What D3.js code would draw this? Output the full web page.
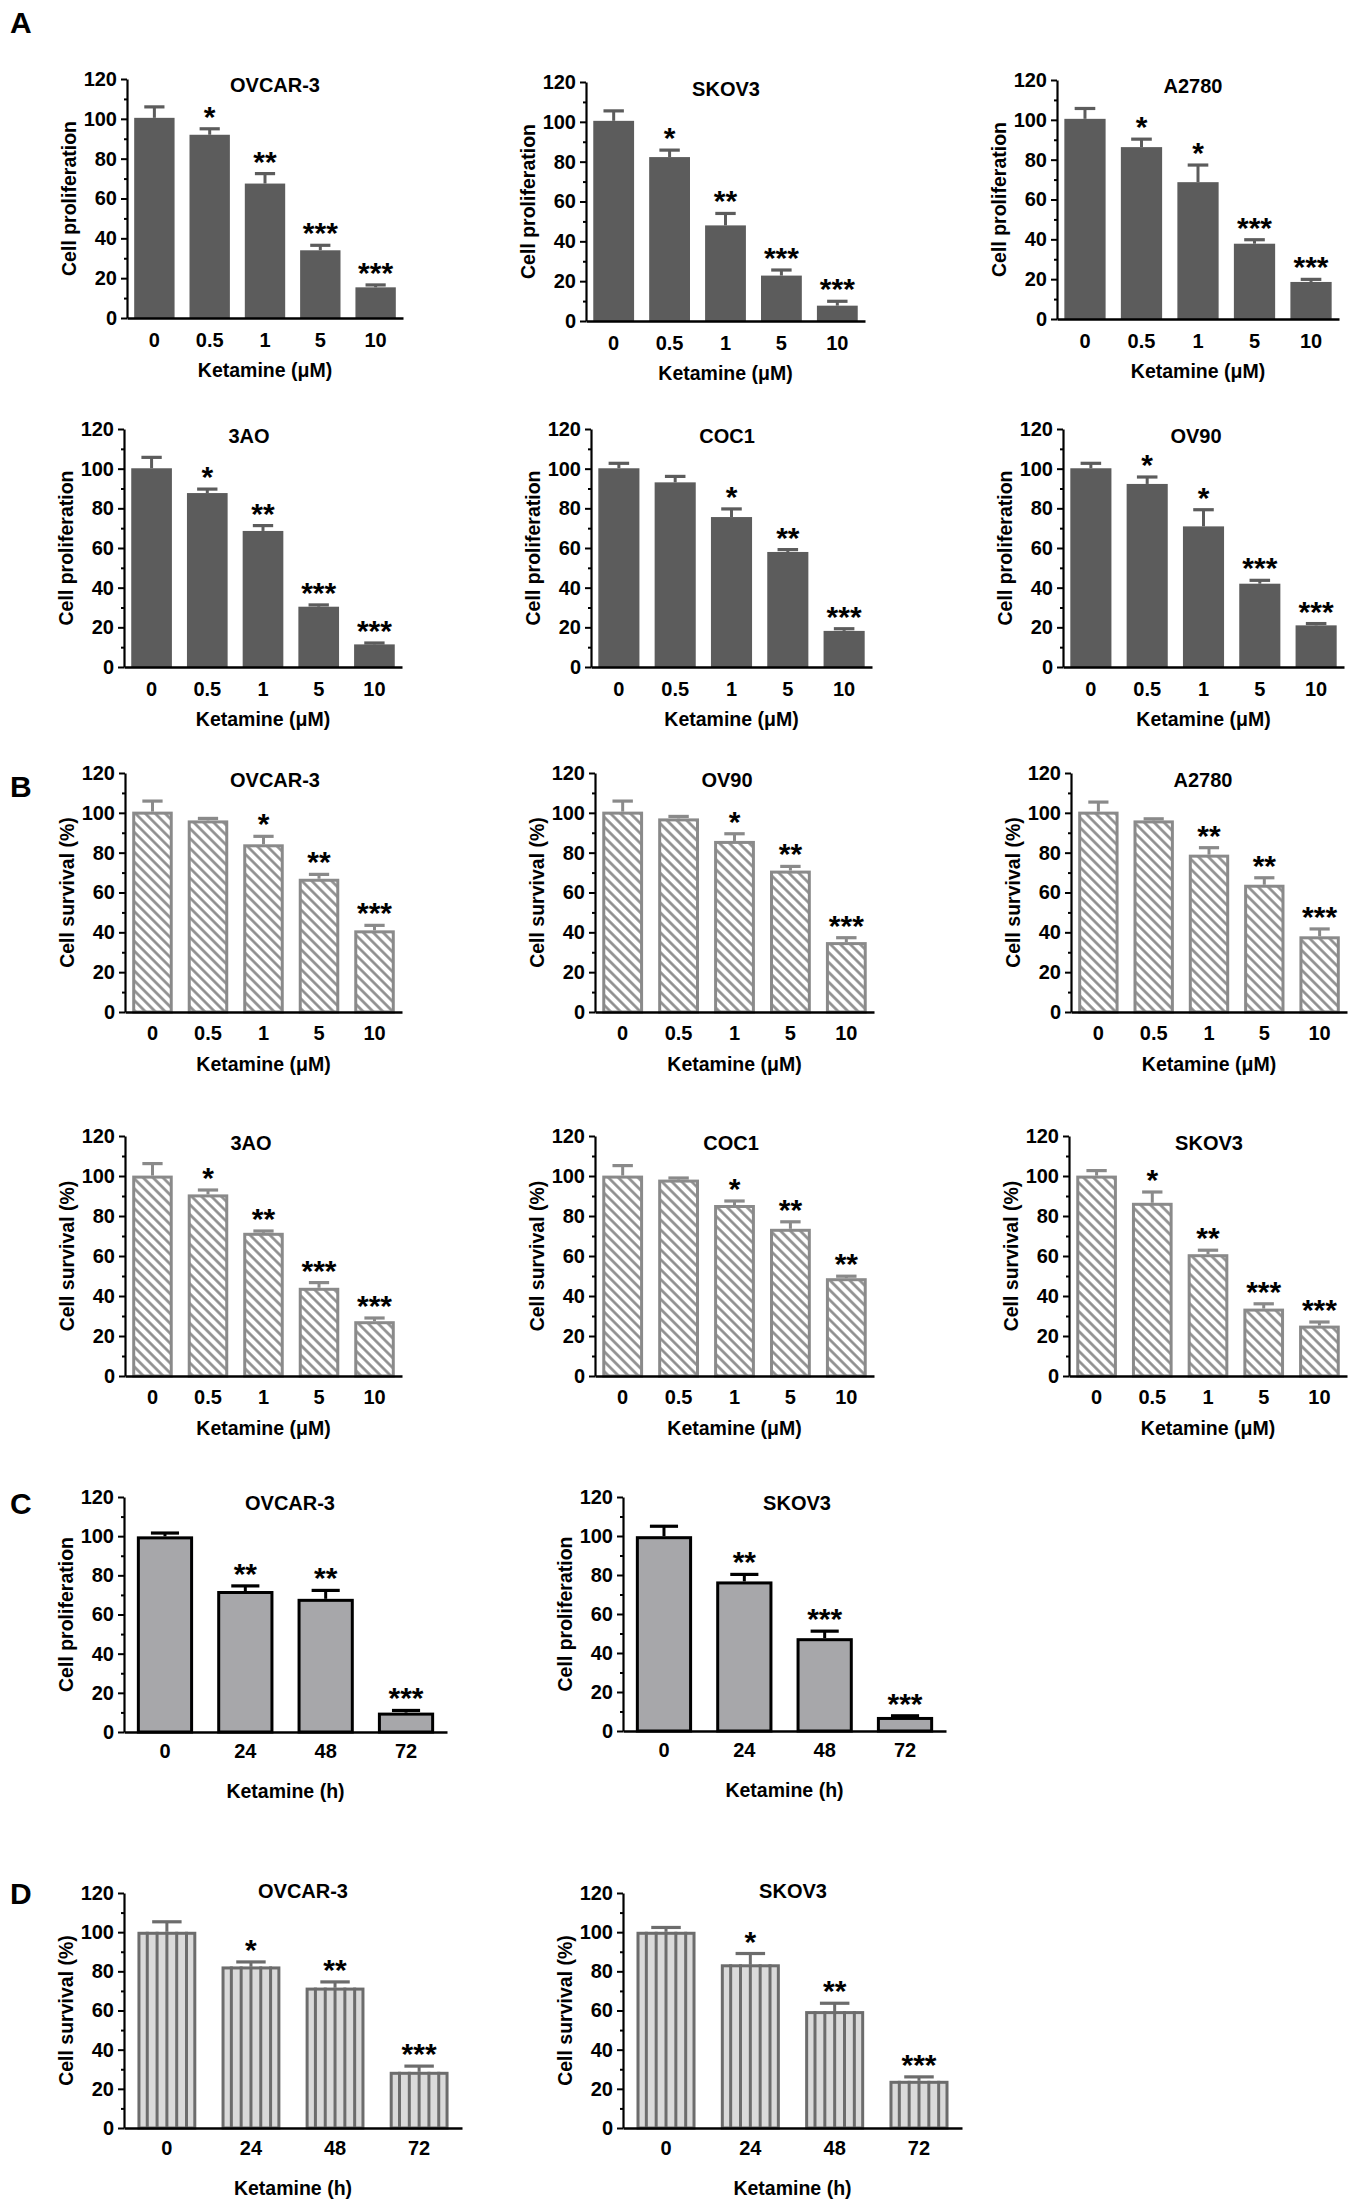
<!DOCTYPE html>
<html>
<head>
<meta charset="utf-8">
<script src="https://cdn.jsdelivr.net/npm/d3@7"></script>
<style>
body { margin: 0; background: #fff; }
svg text { font-family: "Liberation Sans", Arial, sans-serif; font-weight: bold; }
</style>
</head>
<body>
<script>
const doseLabels = ["0", "0.5", "1", "5", "10"];
const timeLabels = ["0", "24", "48", "72"];
const yTicks = [0, 20, 40, 60, 80, 100, 120];
const yMinorTicks = [10, 30, 50, 70, 90, 110];

// A - cell proliferation vs ketamine dose
const aOvcar3 = [100.5, 92, 67.5, 34, 15.4];
const aOvcar3Err = [5.5, 3, 5, 2.5, 1.2];
const aOvcar3Sig = ["", "*", "**", "***", "***"];
const aSkov3 = [100.5, 82.3, 48, 22.8, 7.7];
const aSkov3Err = [5, 3.5, 6, 2.8, 2.2];
const aSkov3Sig = ["", "*", "**", "***", "***"];
const aA2780 = [100.5, 86.3, 68.7, 37.8, 18.6];
const aA2780Err = [5.2, 4, 8.6, 2, 1.3];
const aA2780Sig = ["", "*", "*", "***", "***"];
const a3ao = [100.2, 87.7, 68.6, 30.4, 11.4];
const a3aoErr = [5.5, 2, 2.7, 0.9, 0.7];
const a3aoSig = ["", "*", "**", "***", "***"];
const aCoc1 = [100.2, 93.1, 75.6, 58, 18.2];
const aCoc1Err = [2.5, 3, 4.1, 1.2, 1.1];
const aCoc1Sig = ["", "", "*", "**", "***"];
const aOv90 = [100.2, 92.3, 70.9, 42, 21];
const aOv90Err = [2.5, 3.5, 8.4, 1.7, 0.9];
const aOv90Sig = ["", "*", "*", "***", "***"];

// B - cell survival vs ketamine dose
const bOvcar3 = [100.6, 96.2, 84.2, 66.9, 41];
const bOvcar3Err = [5.3, 1, 4, 2.2, 2.5];
const bOvcar3Sig = ["", "", "*", "**", "***"];
const bOv90 = [100.6, 97.2, 85.9, 71, 35.1];
const bOv90Err = [5.3, 1, 3.6, 2.1, 2.2];
const bOv90Sig = ["", "", "*", "**", "***"];
const bA2780 = [100.6, 96.2, 79, 63.9, 38];
const bA2780Err = [4.8, 0.8, 3.5, 3.5, 3.7];
const bA2780Sig = ["", "", "**", "**", "***"];
const b3ao = [100.2, 90.8, 71.6, 44.1, 27.4];
const b3aoErr = [6, 2.2, 0.9, 2.6, 1.6];
const b3aoSig = ["", "*", "**", "***", "***"];
const bCoc1 = [100.2, 98.2, 85.5, 73.6, 48.9];
const bCoc1Err = [5, 0.8, 2, 3.5, 1];
const bCoc1Sig = ["", "", "*", "**", "**"];
const bSkov3 = [100.2, 86.6, 60.9, 33.7, 25.2];
const bSkov3Err = [2.5, 5.4, 2, 2.4, 1.8];
const bSkov3Sig = ["", "*", "**", "***", "***"];

// C - cell proliferation vs time
const cOvcar3 = [99.9, 72, 68, 9.9];
const cOvcar3Err = [1.7, 2.6, 4.3, 1.1];
const cOvcar3Sig = ["", "**", "**", "***"];
const cSkov3 = [99.9, 76.7, 47.6, 7.2];
const cSkov3Err = [5.1, 3.6, 3.6, 0.6];
const cSkov3Sig = ["", "**", "***", "***"];

// D - cell survival vs time
const dOvcar3 = [100.2, 82.5, 71.7, 28.7];
const dOvcar3Err = [5.1, 2.3, 2.9, 2.9];
const dOvcar3Sig = ["", "*", "**", "***"];
const dSkov3 = [100.2, 83.6, 59.7, 24.1];
const dSkov3Err = [2.2, 5.5, 4, 2];
const dSkov3Sig = ["", "*", "**", "***"];

const prolif = "Cell proliferation";
const surv = "Cell survival (%)";
const doseTitle = "Ketamine (μM)";
const timeTitle = "Ketamine (h)";

const styles = {
    solid:   { fill: "#5c5c5c", stroke: "none", sw: 0, err: "#5c5c5c" },
    hatch:   { fill: "url(#hatch)", stroke: "#8a8a8a", sw: 3, err: "#8a8a8a" },
    outline: { fill: "#a7a7aa", stroke: "#000", sw: 3, err: "#000" },
    vstripe: { fill: "#dadada", stroke: "#6c6c6c", sw: 3, err: "#6c6c6c" }
};

// box: [x axis start, x axis end, y of 120, y of 0]
const charts = [
    { title: "OVCAR-3", v: aOvcar3, e: aOvcar3Err, s: aOvcar3Sig, labels: doseLabels, yl: prolif, xl: doseTitle, style: "solid", box: [127, 403, 79, 318], tx: 275, ty: 13, tick: 29, xt: 59 },
    { title: "SKOV3", v: aSkov3, e: aSkov3Err, s: aSkov3Sig, labels: doseLabels, yl: prolif, xl: doseTitle, style: "solid", box: [586, 865, 82, 321], tx: 726, ty: 14, tick: 29, xt: 59 },
    { title: "A2780", v: aA2780, e: aA2780Err, s: aA2780Sig, labels: doseLabels, yl: prolif, xl: doseTitle, style: "solid", box: [1057, 1339, 80, 319], tx: 1193, ty: 13, tick: 29, xt: 59 },
    { title: "3AO", v: a3ao, e: a3aoErr, s: a3aoSig, labels: doseLabels, yl: prolif, xl: doseTitle, style: "solid", box: [124, 402, 429, 667], tx: 249, ty: 14, tick: 29, xt: 59 },
    { title: "COC1", v: aCoc1, e: aCoc1Err, s: aCoc1Sig, labels: doseLabels, yl: prolif, xl: doseTitle, style: "solid", box: [591, 872, 429, 667], tx: 727, ty: 14, tick: 29, xt: 59 },
    { title: "OV90", v: aOv90, e: aOv90Err, s: aOv90Sig, labels: doseLabels, yl: prolif, xl: doseTitle, style: "solid", box: [1063, 1344, 429, 667], tx: 1196, ty: 14, tick: 29, xt: 59 },

    { title: "OVCAR-3", v: bOvcar3, e: bOvcar3Err, s: bOvcar3Sig, labels: doseLabels, yl: surv, xl: doseTitle, style: "hatch", box: [125, 402, 773, 1012], tx: 275, ty: 14, tick: 28, xt: 59 },
    { title: "OV90", v: bOv90, e: bOv90Err, s: bOv90Sig, labels: doseLabels, yl: surv, xl: doseTitle, style: "hatch", box: [595, 874, 773, 1012], tx: 727, ty: 14, tick: 28, xt: 59 },
    { title: "A2780", v: bA2780, e: bA2780Err, s: bA2780Sig, labels: doseLabels, yl: surv, xl: doseTitle, style: "hatch", box: [1071, 1347, 773, 1012], tx: 1203, ty: 14, tick: 28, xt: 59 },
    { title: "3AO", v: b3ao, e: b3aoErr, s: b3aoSig, labels: doseLabels, yl: surv, xl: doseTitle, style: "hatch", box: [125, 402, 1136, 1376], tx: 251, ty: 14, tick: 28, xt: 59 },
    { title: "COC1", v: bCoc1, e: bCoc1Err, s: bCoc1Sig, labels: doseLabels, yl: surv, xl: doseTitle, style: "hatch", box: [595, 874, 1136, 1376], tx: 731, ty: 14, tick: 28, xt: 59 },
    { title: "SKOV3", v: bSkov3, e: bSkov3Err, s: bSkov3Sig, labels: doseLabels, yl: surv, xl: doseTitle, style: "hatch", box: [1069, 1347, 1136, 1376], tx: 1209, ty: 14, tick: 28, xt: 59 },

    { title: "OVCAR-3", v: cOvcar3, e: cOvcar3Err, s: cOvcar3Sig, labels: timeLabels, yl: prolif, xl: timeTitle, style: "outline", box: [124, 447, 1497, 1732], tx: 290, ty: 13, tick: 26, xt: 66 },
    { title: "SKOV3", v: cSkov3, e: cSkov3Err, s: cSkov3Sig, labels: timeLabels, yl: prolif, xl: timeTitle, style: "outline", box: [623, 946, 1497, 1731], tx: 797, ty: 13, tick: 26, xt: 66 },

    { title: "OVCAR-3", v: dOvcar3, e: dOvcar3Err, s: dOvcar3Sig, labels: timeLabels, yl: surv, xl: timeTitle, style: "vstripe", box: [124, 462, 1893, 2128], tx: 303, ty: 5, tick: 27, xt: 67 },
    { title: "SKOV3", v: dSkov3, e: dSkov3Err, s: dSkov3Sig, labels: timeLabels, yl: surv, xl: timeTitle, style: "vstripe", box: [623, 962, 1893, 2128], tx: 793, ty: 5, tick: 27, xt: 67 }
];

const panelLetters = [
    { t: "A", x: 10, y: 33 },
    { t: "B", x: 10, y: 797 },
    { t: "C", x: 10, y: 1514 },
    { t: "D", x: 10, y: 1904 }
];

const svg = d3.select("body")
    .append("svg")
    .attr("width", 1350)
    .attr("height", 2202);

svg.append("rect").attr("width", 1350).attr("height", 2202).attr("fill", "#fff");

const pat = svg.append("defs")
    .append("pattern")
    .attr("id", "hatch")
    .attr("patternUnits", "userSpaceOnUse")
    .attr("width", 7)
    .attr("height", 7)
    .attr("patternTransform", "rotate(-45)");
pat.append("rect").attr("width", 7).attr("height", 7).attr("fill", "#fff");
pat.append("line")
    .attr("x1", 3.5).attr("x2", 3.5)
    .attr("y1", 0).attr("y2", 7)
    .attr("stroke", "#8a8a8a")
    .attr("stroke-width", 2.6);

function drawChart(c) {
    const st = styles[c.style];
    const [x0, x1, yTop, yBot] = c.box;
    const nBars = c.labels.length;

    const x = d3.scaleBand()
        .domain(c.labels)
        .range([x0, x1])
        .paddingInner(nBars > 4 ? 0.27 : 0.3)
        .paddingOuter(nBars > 4 ? 0.13 : 0.16);

    const y = d3.scaleLinear()
        .domain([0, 120])
        .range([yBot, yTop]);

    const rows = c.labels.map((l, i) => ({ label: l, v: c.v[i], e: c.e[i], s: c.s[i] }));
    const bw = x.bandwidth();
    const g = svg.append("g");

    // error bars (upper only)
    g.selectAll(".stem")
        .data(rows)
        .enter()
        .append("line")
        .attr("x1", d => x(d.label) + bw / 2)
        .attr("x2", d => x(d.label) + bw / 2)
        .attr("y1", d => y(d.v))
        .attr("y2", d => y(d.v + d.e))
        .attr("stroke", st.err)
        .attr("stroke-width", 3);

    g.selectAll(".cap")
        .data(rows)
        .enter()
        .append("line")
        .attr("x1", d => x(d.label) + bw / 4)
        .attr("x2", d => x(d.label) + bw * 3 / 4)
        .attr("y1", d => y(d.v + d.e))
        .attr("y2", d => y(d.v + d.e))
        .attr("stroke", st.err)
        .attr("stroke-width", 3.2);

    const half = st.sw / 2;
    g.selectAll(".bar")
        .data(rows)
        .enter()
        .append("rect")
        .attr("x", d => x(d.label) + half)
        .attr("y", d => y(d.v) + half)
        .attr("width", bw - st.sw)
        .attr("height", d => y(0) - y(d.v) - half)
        .attr("fill", st.fill)
        .attr("stroke", st.stroke)
        .attr("stroke-width", st.sw);

    if (c.style === "vstripe") {
        rows.forEach(d => {
            for (let k = 1; k < 6; k++) {
                g.append("line")
                    .attr("x1", x(d.label) + k * bw / 6)
                    .attr("x2", x(d.label) + k * bw / 6)
                    .attr("y1", y(d.v))
                    .attr("y2", y(0))
                    .attr("stroke", st.stroke)
                    .attr("stroke-width", 3);
            }
        });
    }

    g.selectAll(".sig")
        .data(rows)
        .enter()
        .append("text")
        .attr("x", d => x(d.label) + bw / 2)
        .attr("y", d => y(d.v + d.e) - 2)
        .attr("text-anchor", "middle")
        .style("font-size", "30px")
        .text(d => d.s);

    // y axis, major and minor ticks
    const yAxis = g.append("g")
        .attr("transform", "translate(" + x0 + ",0)")
        .call(d3.axisLeft(y).tickValues(yTicks).tickSize(6).tickSizeOuter(0).tickPadding(4));
    yAxis.selectAll("text").style("font-size", "20px").attr("fill", "#000");
    yAxis.selectAll("line").attr("stroke-width", 2);
    yAxis.select(".domain").attr("stroke-width", 2.2);

    const yMinor = g.append("g")
        .attr("transform", "translate(" + x0 + ",0)")
        .call(d3.axisLeft(y).tickValues(yMinorTicks).tickSize(3).tickSizeOuter(0).tickFormat(""));
    yMinor.selectAll("line").attr("stroke-width", 2);
    yMinor.select(".domain").remove();

    const xAxis = g.append("g")
        .attr("transform", "translate(0," + yBot + ")")
        .call(d3.axisBottom(x).tickSize(0).tickSizeOuter(0).tickPadding(c.tick - 14));
    xAxis.selectAll("text").style("font-size", "20px").attr("fill", "#000");
    xAxis.select(".domain").attr("stroke-width", 2.6);

    g.append("text")
        .attr("x", c.tx)
        .attr("y", yTop + c.ty)
        .attr("text-anchor", "middle")
        .style("font-size", "20px")
        .text(c.title);

    g.append("text")
        .attr("x", (x0 + x1) / 2)
        .attr("y", yBot + c.xt)
        .attr("text-anchor", "middle")
        .style("font-size", "19.5px")
        .text(c.xl);

    g.append("text")
        .attr("transform", "translate(" + (x0 - 51) + "," + (yTop + yBot) / 2 + ") rotate(-90)")
        .attr("text-anchor", "middle")
        .style("font-size", "19.5px")
        .text(c.yl);
}

charts.forEach(drawChart);

svg.selectAll(".letter")
    .data(panelLetters)
    .enter()
    .append("text")
    .attr("x", d => d.x)
    .attr("y", d => d.y)
    .style("font-size", "30px")
    .text(d => d.t);
</script>
</body>
</html>
